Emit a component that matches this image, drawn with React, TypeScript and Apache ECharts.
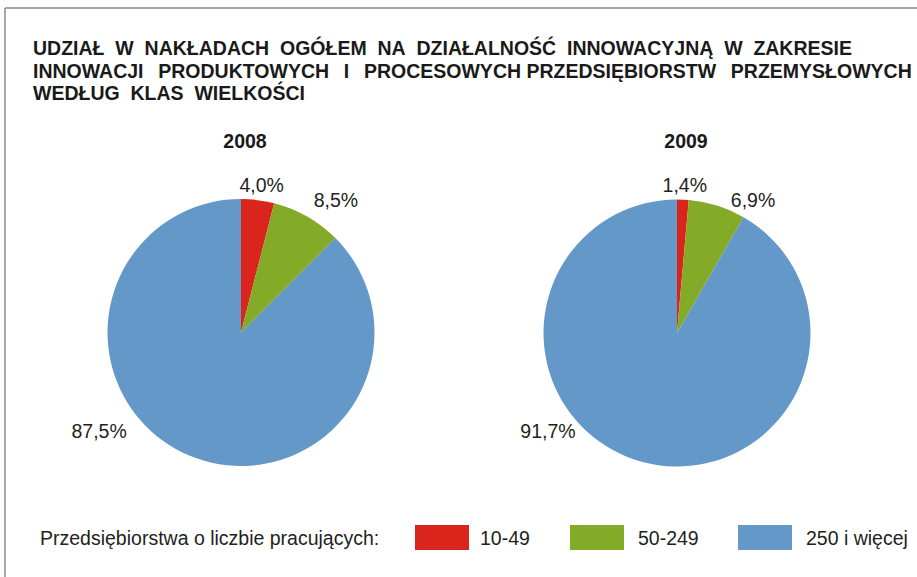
import React, { useEffect, useRef } from "react";
import * as echarts from "echarts";

const categories = ["10-49", "50-249", "250 i więcej"];
const values2008 = [4.0, 8.5, 87.5];
const values2009 = [1.4, 6.9, 91.7];
const years = ["2008", "2009"];
const titleLines = [
  "UDZIAŁ  W  NAKŁADACH  OGÓŁEM  NA  DZIAŁALNOŚĆ  INNOWACYJNĄ  W  ZAKRESIE",
  "INNOWACJI   PRODUKTOWYCH   I   PROCESOWYCH PRZEDSIĘBIORSTW   PRZEMYSŁOWYCH",
  "WEDŁUG  KLAS  WIELKOŚCI",
];
const legendCaption = "Przedsiębiorstwa o liczbie pracujących:";

const colors = ["#da251c", "#84ab27", "#6398c8"];
const FONT = "'Liberation Sans', Arial, sans-serif";
const TEXT = "#231f20";

// layout (pixels)
const pieCenters = [
  [241, 332.5],
  [677, 333],
];
const pieRadius = 133.5;
const yearX = [245, 686];
// label placement: [angle from top clockwise (deg), distance from centre]
const labelPolar = [
  [
    [7.9, 150],
    [35.4, 163.8],
    [235.5, 172.2],
  ],
  [
    [3.0, 149.2],
    [29.6, 154],
    [233.1, 161.4],
  ],
];
const legendLeft = [410, 565, 733];
const legendPad = [6, 9, 9];

const fmt = (v: number) => v.toFixed(1).replace(".", ",") + "%";

export default function App() {
  const ref = useRef<HTMLDivElement>(null);
  useEffect(() => {
    if (!ref.current) return;
    const chart = echarts.init(ref.current, undefined, { renderer: "svg" });
    const seriesValues = [values2008, values2009];
    const fixSpaces = (s: string) =>
      s.replace(/ {3}/g, "\u00A0\u2009 ").replace(/ {2}/g, "\u00A0 ");
    chart.setOption({
      animation: false,
      color: colors,
      textStyle: { fontFamily: FONT },
      legend: categories.map((c, i) => ({
        data: [c],
        left: legendLeft[i],
        top: 520,
        itemWidth: 54,
        itemHeight: 25,
        icon: "rect",
        selectedMode: false,
        textStyle: {
          fontSize: 19.5,
          color: TEXT,
          fontFamily: FONT,
          padding: [0, 0, 0, legendPad[i]],
        },
      })),
      graphic: [
        {
          type: "line",
          shape: { x1: 5, y1: 8, x2: 917, y2: 8 },
          style: { stroke: "#8a8a8a", lineWidth: 1.5 },
        },
        {
          type: "line",
          shape: { x1: 5, y1: 8, x2: 5, y2: 577 },
          style: { stroke: "#8a8a8a", lineWidth: 1.5 },
        },
        ...titleLines.map((t, i) => ({
          type: "text",
          left: 33,
          top: 38 + i * 22.5,
          style: {
            text: fixSpaces(t),
            font: `bold 19.5px ${FONT}`,
            fill: "#1a1a1a",
          },
        })),
        ...years.map((y, i) => ({
          type: "text",
          x: yearX[i],
          y: 141,
          style: {
            text: y,
            font: `bold 19.5px ${FONT}`,
            fill: "#1a1a1a",
            align: "center",
            verticalAlign: "middle",
          },
        })),
        {
          type: "text",
          x: 40,
          y: 538,
          style: {
            text: legendCaption,
            font: `19.5px ${FONT}`,
            fill: TEXT,
            verticalAlign: "middle",
          },
        },
      ],
      series: years.map((y, si) => ({
        type: "pie",
        name: y,
        center: pieCenters[si],
        radius: pieRadius,
        startAngle: 90,
        clockwise: true,
        avoidLabelOverlap: false,
        itemStyle: { borderWidth: 0 },
        emphasis: { disabled: true },
        label: {
          show: true,
          position: "outside",
          formatter: (p: any) => fmt(p.value),
          fontSize: 19.5,
          color: TEXT,
          fontFamily: FONT,
        },
        labelLine: { show: false },
        labelLayout: (p: any) => {
          const [ang, dist] = labelPolar[si][p.dataIndex];
          const a = (ang * Math.PI) / 180;
          return {
            x: pieCenters[si][0] + dist * Math.sin(a),
            y: pieCenters[si][1] - dist * Math.cos(a) + 1,
            align: "center",
            verticalAlign: "middle",
          };
        },
        data: categories.map((c, i) => ({ name: c, value: seriesValues[si][i] })),
      })),
    });
    return () => chart.dispose();
  }, []);
  return (
    <div
      ref={ref}
      style={{ position: "fixed", left: 0, top: 0, width: 917, height: 577, background: "#fff" }}
    />
  );
}
